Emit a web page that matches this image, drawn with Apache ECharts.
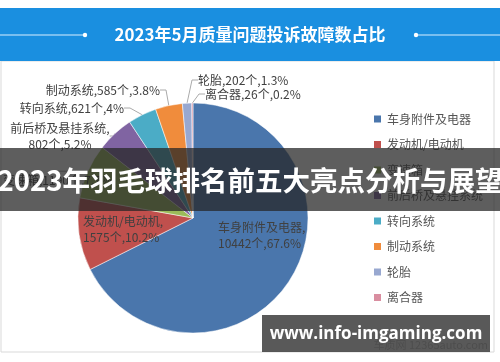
<!DOCTYPE html>
<html>
<head>
<meta charset="utf-8">
<script src="https://cdn.jsdelivr.net/npm/echarts@6/dist/echarts.min.js"></script>
<style>html,body{margin:0;padding:0;background:#fff;}#c{width:500px;height:362px;}</style>
</head>
<body>
<div id="c"></div>
<script>
const categories = ['车身附件及电器','发动机/电动机','变速箱','前后桥及悬挂系统','转向系统','制动系统','轮胎','离合器'];
const counts = [10442, 1575, 1190, 802, 621, 585, 202, 26];
const colors = ['#4a76ac','#c0504d','#9bbb59','#8064a2','#4bacc6','#f08c3c','#98a8d0','#d98ea0'];
const chartTitle = '2023年5月质量问题投诉故障数占比';
const bannerText = '2023年羽毛球排名前五大亮点分析与展望';
const watermark = 'www.info-imgaming.com';

const font = '"Noto Sans CJK SC", "Noto Sans", sans-serif';
const chart = echarts.init(document.getElementById('c'));
const twoLine = [0, 1, 3];
const insideIdx = [0, 1];
// label placement (text anchor) per slice
const labelPos = [
  { x: 218, y: 219, align: 'left', verticalAlign: 'top' },
  { x: 83, y: 213, align: 'left', verticalAlign: 'top' },
  { x: 112, y: 180, align: 'right', verticalAlign: 'middle' },
  { x: 60, y: 120, align: 'center', verticalAlign: 'top' },
  { x: 124, y: 108, align: 'right', verticalAlign: 'middle' },
  { x: 160, y: 90, align: 'right', verticalAlign: 'middle' },
  { x: 198, y: 80, align: 'left', verticalAlign: 'middle' },
  { x: 205, y: 94, align: 'left', verticalAlign: 'middle' }
];
const data = categories.map((n, i) => {
  const item = { name: n, value: counts[i], itemStyle: { color: colors[i] } };
  item.label = { formatter: twoLine.includes(i) ? '{b},\n{c}个,{d}%' : '{b},{c}个,{d}%' };
  if (insideIdx.includes(i)) {
    item.label.position = 'inside';
    item.labelLine = { show: false };
  }
  return item;
});
chart.setOption({
  animation: false,
  textStyle: { fontFamily: font },
  legend: {
    orient: 'vertical', left: 367, top: 108,
    itemWidth: 9, itemHeight: 9, itemGap: 13.5, icon: 'rect',
    textStyle: { fontSize: 12, color: '#555', fontFamily: font }
  },
  graphic: [
    { type: 'rect', shape: { x: 0, y: 8, width: 500, height: 53 }, style: { fill: '#1a8fe0' }, z: 10 },
    { type: 'text', x: 250, y: 35, style: { text: chartTitle, fill: '#fff', font: 'bold 17px ' + font, align: 'center', verticalAlign: 'middle' }, z: 11 },
    { type: 'line', shape: { x1: 0, y1: 35, x2: 85, y2: 35 }, style: { stroke: '#d8eeff', lineWidth: 1 }, z: 11 },
    { type: 'circle', shape: { cx: 85, cy: 35, r: 2.2 }, style: { fill: '#fff' }, z: 11 },
    { type: 'line', shape: { x1: 416, y1: 35, x2: 500, y2: 35 }, style: { stroke: '#d8eeff', lineWidth: 1 }, z: 11 },
    { type: 'circle', shape: { cx: 416, cy: 35, r: 2.2 }, style: { fill: '#fff' }, z: 11 },
    { type: 'rect', shape: { x: 1, y: 61, width: 493, height: 291 }, style: { fill: 'none', stroke: '#d9d9d9', lineWidth: 1 }, z: 1 },
    { type: 'rect', shape: { x: 0, y: 148, width: 500, height: 63 }, style: { fill: 'rgba(38,38,38,0.74)' }, z: 100 },
    { type: 'text', x: 250, y: 181, style: { text: bannerText, fill: '#fff', font: 'bold 27.5px ' + font, align: 'center', verticalAlign: 'middle' }, z: 101 },
    { type: 'text', x: 488, y: 345, style: { text: '车质网 12365auto.com', fill: 'rgba(120,120,120,0.6)', font: '11px ' + font, align: 'right', verticalAlign: 'middle' }, z: 2 },
    { type: 'rect', shape: { x: 262, y: 315, width: 228, height: 37 }, style: { fill: 'rgba(60,60,60,0.85)' }, z: 100 },
    { type: 'text', x: 376, y: 334, style: { text: watermark, fill: '#fff', font: 'bold 17px "Open Sans", "DejaVu Sans", sans-serif', align: 'center', verticalAlign: 'middle' }, z: 101 }
  ],
  series: [{
    type: 'pie',
    center: [193, 218],
    radius: [0, 115],
    startAngle: 90,
    percentPrecision: 1,
    avoidLabelOverlap: false,
    data: data,
    label: {
      fontSize: 12, lineHeight: 16, color: '#404040', fontFamily: font
    },
    labelLine: { length: 8, length2: 6, lineStyle: { color: '#aaa', width: 1 } },
    labelLayout: function (p) { return labelPos[p.dataIndex]; },
    itemStyle: { borderColor: '#fff', borderWidth: 0.5 }
  }]
});
</script>
</body>
</html>
